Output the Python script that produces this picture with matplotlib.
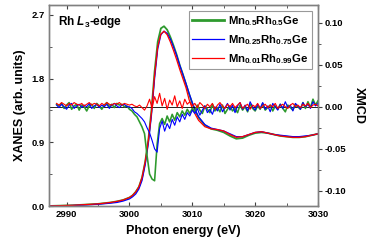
import numpy as np
import matplotlib
matplotlib.use("Agg")
import matplotlib.pyplot as plt
from matplotlib.ticker import MultipleLocator

plt.rcParams['font.family'] = ['Liberation Sans', 'DejaVu Sans']
plt.rcParams['font.weight'] = 'bold'
plt.rcParams['mathtext.fontset'] = 'custom'
plt.rcParams['mathtext.rm'] = 'Liberation Sans:bold'
plt.rcParams['mathtext.it'] = 'Liberation Sans:bold:italic'
plt.rcParams['mathtext.bf'] = 'Liberation Sans:bold'

# ---------------- data ----------------
labels = [r'Mn$_{0.5}$Rh$_{0.5}$Ge', r'Mn$_{0.25}$Rh$_{0.75}$Ge', r'Mn$_{0.01}$Rh$_{0.99}$Ge']

energy_xanes = [2987, 2989, 2991, 2993, 2995, 2996, 2997, 2998, 2999, 3000, 3000.5, 3001,
                3001.5, 3002, 3002.5, 3003, 3003.5, 3004, 3004.5, 3005, 3005.5, 3006, 3006.5,
                3007, 3007.5, 3008, 3008.5, 3009, 3009.5, 3010, 3010.5, 3011, 3012, 3013,
                3014, 3015, 3016, 3017, 3018, 3019, 3020, 3021, 3022, 3023, 3024, 3025, 3026,
                3027, 3028, 3029, 3030]

xanes_mn05 = [0.00, 0.005, 0.01, 0.02, 0.03, 0.04, 0.05, 0.065, 0.085, 0.12, 0.15, 0.20, 0.27,
              0.40, 0.62, 0.93, 1.35, 1.90, 2.32, 2.51, 2.54, 2.49, 2.39, 2.27, 2.14, 1.99, 1.86,
              1.72, 1.58, 1.45, 1.34, 1.25, 1.14, 1.09, 1.07, 1.04, 0.99, 0.95, 0.96, 1.00, 1.03,
              1.04, 1.03, 1.01, 0.99, 0.98, 0.97, 0.97, 0.98, 1.00, 1.02]
xanes_mn025 = [0.00, 0.003, 0.008, 0.015, 0.025, 0.032, 0.04, 0.05, 0.07, 0.10, 0.13, 0.17, 0.24,
               0.36, 0.58, 0.88, 1.28, 1.80, 2.22, 2.42, 2.47, 2.44, 2.36, 2.25, 2.13, 1.99, 1.86,
               1.73, 1.59, 1.46, 1.35, 1.26, 1.15, 1.10, 1.08, 1.06, 1.02, 0.98, 0.98, 1.01, 1.04,
               1.05, 1.03, 1.01, 1.00, 0.99, 0.98, 0.98, 0.99, 1.00, 1.02]
xanes_mn001 = [0.00, 0.005, 0.01, 0.02, 0.03, 0.04, 0.05, 0.065, 0.085, 0.12, 0.15, 0.20, 0.27,
               0.40, 0.62, 0.92, 1.32, 1.85, 2.25, 2.43, 2.47, 2.42, 2.32, 2.20, 2.07, 1.93, 1.80,
               1.67, 1.50, 1.38, 1.29, 1.21, 1.12, 1.09, 1.08, 1.06, 1.01, 0.97, 0.98, 1.01, 1.04,
               1.05, 1.03, 1.01, 0.99, 0.98, 0.97, 0.97, 0.98, 1.00, 1.02]

xmcd_start, xmcd_end = 2988.4, 3030.0
xmcd_mn05 = [0.003, 0.001, 0.004, -0.002, 0.002, 0.005, -0.003, 0.001, 0.003, -0.004,
             0.002, 0.000, -0.005, 0.001, 0.003, -0.002, 0.004, 0.001, -0.003, 0.002,
             0.005, 0.000, 0.003, -0.001, 0.004, 0.002, 0.003, 0.000, 0.001,
             -0.003, -0.005, -0.009, -0.012, -0.018, -0.024, -0.032, -0.058, -0.080, -0.086,
             -0.088, -0.045, -0.020, -0.014, -0.021, -0.011, -0.018, -0.009, -0.016, -0.007,
             -0.012, -0.005, -0.010, -0.003, -0.008, -0.002,
             -0.006, 0.002, -0.004, -0.008, 0.001, -0.003, -0.007, 0.003, -0.005, -0.001,
             -0.006, 0.002, -0.008, -0.003, 0.001, -0.005, -0.002, -0.007, 0.002, -0.004,
             0.000, -0.006, 0.003, -0.002, -0.005, 0.001, -0.003, 0.004, -0.004, -0.001,
             0.002, -0.005, 0.001, -0.003, 0.003, -0.002, -0.006, 0.002, -0.001, -0.004,
             0.003, 0.000, -0.003, 0.005, -0.002, 0.006, -0.001, 0.009, 0.002, 0.007]
xmcd_mn025 = [0.002, -0.001, 0.003, 0.000, -0.003, 0.002, 0.004, -0.002, 0.001, 0.003,
              -0.001, 0.002, 0.000, 0.004, -0.002, 0.001, 0.003, -0.001, 0.002, 0.000,
              0.003, -0.002, 0.002, 0.004, 0.001, -0.001, 0.002, 0.003, 0.000,
              0.000, -0.002, -0.006, -0.008, -0.011, -0.014, -0.018, -0.025, -0.031, -0.040,
              -0.050, -0.054, -0.026, -0.017, -0.029, -0.020, -0.026, -0.015, -0.022, -0.012,
              -0.018, -0.009, -0.015, -0.007, -0.011, -0.004,
              -0.008, -0.002, -0.010, -0.004, 0.001, -0.007, -0.003, -0.009, 0.000, -0.005,
              0.003, -0.006, -0.001, 0.004, -0.004, 0.002, -0.007, 0.001, 0.005, -0.003,
              0.002, -0.005, 0.006, 0.000, -0.004, 0.003, -0.002, 0.005, -0.003, 0.001,
              -0.006, 0.004, 0.000, -0.004, 0.003, -0.002, 0.006, -0.001, 0.002, -0.005,
              0.004, 0.001, -0.003, 0.005, 0.000, 0.003, -0.002, 0.006, 0.001, 0.004]
xmcd_mn001 = [0.004, 0.002, 0.005, 0.003, 0.001, 0.004, 0.002, 0.005, 0.003, 0.002,
              0.004, 0.001, 0.003, 0.005, 0.002, 0.004, 0.003, 0.001, 0.004, 0.002,
              0.005, 0.003, 0.002, 0.004, 0.003, 0.005, 0.002, 0.004, 0.003,
              0.002, 0.003, 0.001, 0.000, 0.002, -0.001, -0.004, 0.001, 0.009, -0.002,
              0.012, 0.004, 0.016, 0.001, 0.010, -0.003, 0.008, 0.002, 0.013, 0.000,
              0.007, -0.002, 0.009, 0.003, 0.006, 0.001,
              0.004, -0.001, 0.005, 0.002, -0.002, 0.003, 0.000, 0.004, -0.003, 0.002,
              0.005, 0.001, -0.002, 0.003, 0.000, 0.004, -0.001, 0.002, 0.005, -0.002,
              0.001, 0.003, -0.003, 0.002, 0.000, 0.004, -0.002, 0.001, 0.003, -0.001,
              0.002, 0.000, 0.004, -0.002, 0.001, 0.003, 0.000, -0.002, 0.002, 0.004,
              0.000, 0.002, -0.001, 0.003, 0.001, 0.004, -0.001, 0.002, 0.003, 0.001]

colors = ['#2e9a2e', '#0000ff', '#ff0000']
widths = [1.3, 0.9, 0.9]

# ---------------- figure ----------------
fig = plt.figure(figsize=(3.74, 2.49), dpi=100)
ax = fig.add_axes([49/374, 1 - 206/249, (318-49)/374, (206-5)/249])
ax2 = ax.twinx()

xanes = [xanes_mn05, xanes_mn025, xanes_mn001]
xmcd = [xmcd_mn05, xmcd_mn025, xmcd_mn001]

handles = []
for ys, c, w, lab in zip(xanes, colors, widths, labels):
    h, = ax.plot(energy_xanes, ys, color=c, lw=w, label=lab)
    handles.append(h)

ax2.axhline(0, color='black', lw=0.6)
for ys, c, w in zip(xmcd, colors, widths):
    e = np.linspace(xmcd_start, xmcd_end, len(ys))
    ax2.plot(e, ys, color=c, lw=w * 0.9)

ax.set_xlim(2987.2, 3030)
ax.set_ylim(0, 2.84)
ax2.set_ylim(-0.118, 0.121)

ax.xaxis.set_major_locator(MultipleLocator(10))
ax.xaxis.set_minor_locator(MultipleLocator(5))
ax.yaxis.set_major_locator(MultipleLocator(0.9))
ax.yaxis.set_minor_locator(MultipleLocator(0.45))
ax2.yaxis.set_major_locator(MultipleLocator(0.05))
ax2.yaxis.set_minor_locator(MultipleLocator(0.025))
ax.yaxis.set_major_formatter(plt.FuncFormatter(lambda v, p: f'{v:.1f}'))
ax2.yaxis.set_major_formatter(plt.FuncFormatter(lambda v, p: f'{v:.2f}'))

grey = '#808080'
for a in (ax, ax2):
    for s in a.spines.values():
        s.set_color(grey)
        s.set_linewidth(1.0)

ax.tick_params(axis='x', which='both', direction='in', top=True, bottom=True,
               color='#404040', labelsize=6.8, pad=3)
ax.tick_params(axis='x', which='major', length=3)
ax.tick_params(axis='x', which='minor', length=2)
ax.tick_params(axis='y', which='both', direction='in', right=False, color='#404040',
               labelsize=6.8, pad=3)
ax.tick_params(axis='y', which='major', length=3)
ax.tick_params(axis='y', which='minor', length=2)
ax2.tick_params(axis='y', which='both', direction='out', color='#404040', labelsize=6.8, pad=2)
ax2.tick_params(axis='y', which='major', length=3)
ax2.tick_params(axis='y', which='minor', length=2)

for lbl in ax.get_xticklabels() + ax.get_yticklabels() + ax2.get_yticklabels():
    lbl.set_fontweight('bold')

ax.set_xlabel('Photon energy (eV)', fontsize=9, fontweight='bold', labelpad=4)
ax.set_ylabel('XANES (arb. units)', fontsize=9, fontweight='bold', labelpad=4)
ax2.set_ylabel('XMCD', fontsize=9, fontweight='bold', rotation=270, labelpad=13)

ax.text(0.035, 0.955, r'Rh $\mathit{L}_{3}$-edge', transform=ax.transAxes, fontsize=8.5,
        fontweight='bold', va='top', ha='left')

leg = ax2.legend(handles, labels, loc='upper right', bbox_to_anchor=(0.978, 0.972),
                 borderaxespad=0, frameon=True, fancybox=False,
                 edgecolor=grey, handlelength=2.8, handletextpad=0.4, labelspacing=0.45,
                 borderpad=0.3, prop={'weight': 'bold', 'size': 8.2})
leg.get_frame().set_linewidth(0.8)
leg.legend_handles[0].set_linewidth(2.0)

fig.savefig('out.png', dpi=100)
